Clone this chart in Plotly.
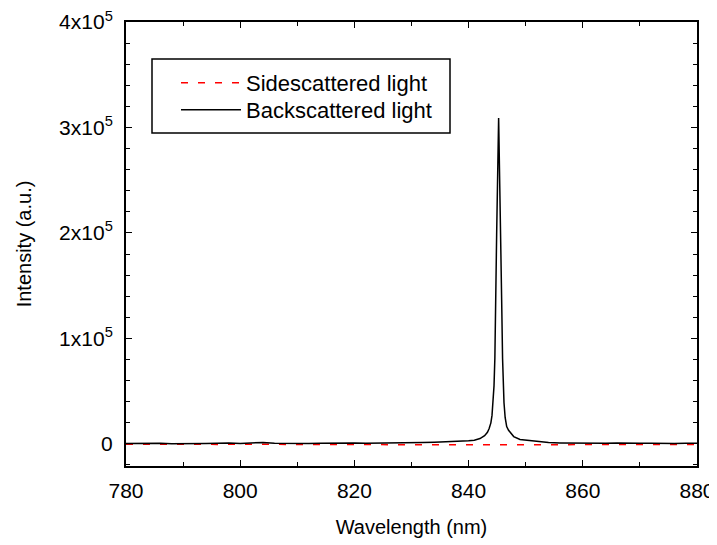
import plotly.graph_objects as go

# ---- data ----
back_wl = [780, 782, 784, 786, 788, 790, 792, 794, 796, 798, 800, 802, 804, 806, 808,
           810, 812, 814, 816, 818, 820, 822, 824, 826, 828, 830, 832, 834, 836, 838,
           840, 841, 842, 842.8, 843.3, 843.6, 843.9, 844.1, 844.3, 844.45, 844.6, 844.8,
           844.91, 845.26, 845.52, 845.79, 845.95, 846.05, 846.2, 846.4, 846.67, 847.0,
           847.37, 847.9, 849, 850.3, 851.5, 853.2, 854, 856, 858, 860, 862, 864, 866, 868,
           870, 872, 874, 876, 878, 880]
back_int = [300, 600, 200, 500, 100, 400, 700, 300, 500, 900, 400, 600, 1300, 500, 300,
            600, 400, 500, 800, 400, 700, 500, 800, 900, 1000, 1200, 1300, 1600, 1900, 2300,
            2900, 3500, 5000, 7800, 11000, 14500, 19900, 27000, 38900, 55000, 81500, 136500,
            198100, 309000, 198100, 136500, 81000, 60000, 38900, 25000, 16400, 12800,
            10400, 6900, 4200, 3500, 2800, 1800, 1200, 900, 700, 600, 800, 500, 700, 1000,
            600, 500, 800, 400, 600, 500]

side_wl = [780, 784, 788, 792, 796, 800, 804, 808, 812, 816, 820, 824, 828, 832, 836,
           840, 844, 848, 852, 856, 860, 864, 868, 872, 876, 880]
side_int = [-300, -500, -400, -600, -500, -400, -600, -500, -400, -600, -700, -800, -900,
            -800, -900, -900, -1000, -900, -800, -700, -600, -500, -600, -500, -400, -500]

y_tickvals = [0, 100000, 200000, 300000, 400000]
y_ticktext = ["0", "1x10<sup>5</sup>", "2x10<sup>5</sup>", "3x10<sup>5</sup>", "4x10<sup>5</sup>"]
x_tickvals = [780, 800, 820, 840, 860, 880]

FONT = "Liberation Sans, Arial, sans-serif"

# page has an 8px body margin: size the figure so the plot area lands at 126..697 x 22..466
PW, PH = 717, 537
ML, MR, MT, MB = 118, 28, 14, 79
PLOT_W = PW - ML - MR
PLOT_H = PH - MT - MB


def px_x(page_x):
    return (page_x - 8 - ML) / PLOT_W


def px_y(page_y):
    return 1 - (page_y - 8 - MT) / PLOT_H


fig = go.Figure()
fig.add_trace(go.Scatter(x=side_wl, y=side_int, mode="lines", name="Sidescattered light",
                         legend="legend",
                         line=dict(color="#ff0000", width=1.5, dash="7px,10px")))
fig.add_trace(go.Scatter(x=back_wl, y=back_int, mode="lines", name="Backscattered light",
                         legend="legend2",
                         line=dict(color="black", width=1.5)))

axis_common = dict(showline=True, linecolor="black", linewidth=2, mirror="allticks",
                   ticks="inside", ticklen=6, tickwidth=1.2, tickcolor="black",
                   showgrid=False, zeroline=False, automargin=False,
                   ticklabeloverflow="allow",
                   tickfont=dict(family=FONT, size=21, color="black"))

fig.update_xaxes(range=[780, 880], tickvals=x_tickvals,
                 minor=dict(dtick=10, tick0=780, ticks="inside", ticklen=4, tickcolor="black",
                            showgrid=False),
                 ticklabelstandoff=5,
                 title=dict(text="Wavelength (nm)", font=dict(family=FONT, size=20, color="black"),
                            standoff=19),
                 **axis_common)
fig.update_yaxes(range=[-21000, 400000], tickvals=y_tickvals, ticktext=y_ticktext,
                 minor=dict(dtick=20000, tick0=0, ticks="inside", ticklen=4, tickcolor="black",
                            showgrid=False),
                 ticklabelstandoff=7,
                 title=dict(text="Intensity (a.u.)", font=dict(family=FONT, size=20, color="black"),
                            standoff=22),
                 **axis_common)

# legend box
fig.add_shape(type="rect", xref="paper", yref="paper",
              x0=px_x(152), x1=px_x(450), y0=px_y(133), y1=px_y(59),
              line=dict(color="black", width=1.5), fillcolor="white", layer="below")

leg_common = dict(xanchor="left", yanchor="middle", bgcolor="rgba(0,0,0,0)", borderwidth=0,
                  font=dict(family=FONT, size=22, color="black"), itemwidth=60)

fig.update_layout(
    width=PW, height=PH,
    margin=dict(l=ML, r=MR, t=MT, b=MB),
    plot_bgcolor="white", paper_bgcolor="white",
    font=dict(family=FONT, color="black"),
    showlegend=True,
    legend=dict(x=px_x(176), y=px_y(83), **leg_common),
    legend2=dict(x=px_x(176), y=px_y(110), **leg_common),
)

fig.write_html("out.html")
